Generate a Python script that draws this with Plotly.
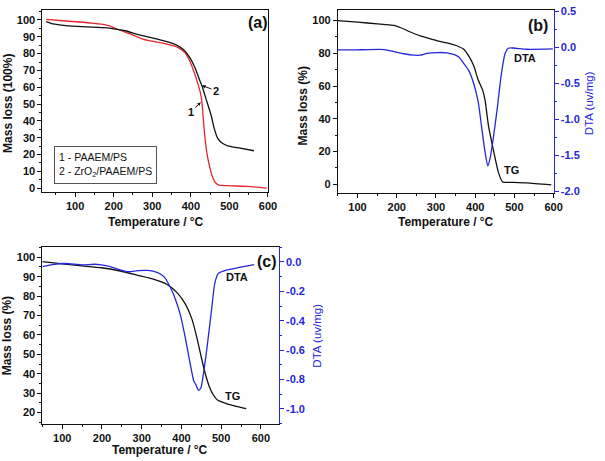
import plotly.graph_objects as go

W, H = 605, 461

# ---------------- data ----------------
# (a) TG curves
a_T1 = [25, 76, 144, 187, 213, 247, 273, 299, 333, 367, 384, 397, 410, 418, 425, 429, 432, 436, 444, 457, 466, 474, 504, 547, 597]
a_M1 = [100.4, 99.4, 98.1, 96.7, 94.2, 91.3, 88.8, 87.4, 85.9, 83.6, 80.7, 75.8, 68, 62.3, 56.5, 50.7, 42, 31.3, 17.8, 6.2, 2.7, 1.7, 1.35, 1.0, 0.0]
a_T2 = [25, 42, 76, 144, 187, 230, 264, 299, 333, 359, 380, 397, 410, 423, 431, 440, 453, 461, 470, 483, 496, 521, 564]
a_M2 = [99, 97.7, 96.7, 95.7, 95.2, 93.6, 91.3, 89.4, 87.4, 85.5, 82.6, 77.8, 72, 64.2, 59.4, 52.6, 43, 35.2, 29.4, 26.5, 25.1, 24.0, 22.2]
legend_lines = ["1 - PAAEM/PS", "2 - ZrO<sub>2</sub>/PAAEM/PS"]

# (b) TG and DTA
b_T_tg = [49, 100, 151, 193, 210, 235, 260, 277, 303, 328, 353, 370, 383, 396, 408, 419, 425, 434, 446, 459, 470, 488, 531, 594]
b_tg = [100, 99, 98, 97, 95.6, 93, 90.6, 89.4, 87.6, 86.4, 84.6, 82.6, 78.6, 72.5, 63.5, 57.5, 51.5, 35.5, 21.4, 7.4, 1.4, 1.2, 0.8, -0.4]
b_T_dta = [49, 92, 168, 193, 218, 244, 260, 277, 303, 328, 345, 358, 370, 383, 396, 408, 417, 425, 432, 438, 446, 456, 467, 476, 484, 497, 531, 598]
b_dta = [-0.036, -0.036, -0.032, -0.06, -0.09, -0.11, -0.11, -0.086, -0.073, -0.077, -0.1, -0.136, -0.218, -0.318, -0.5, -0.77, -1.136, -1.45, -1.65, -1.545, -1.27, -0.86, -0.364, -0.09, -0.014, -0.01, -0.027, -0.023]

# (c) TG and DTA
c_T_tg = [50, 100, 150, 199, 249, 290, 331, 364, 389, 410, 426, 439, 450, 460, 470, 480, 490, 513, 538, 563]
c_tg = [97.8, 96.6, 95.6, 94.6, 92.8, 90.7, 88.6, 86, 81.8, 75.9, 68.4, 58.5, 48.5, 40, 33.5, 29.2, 26.6, 24.6, 23.2, 22]
c_T_dta = [50, 75, 108, 150, 183, 216, 240, 265, 290, 315, 340, 356, 373, 385, 398, 410, 421, 431, 436, 443, 449, 455, 464, 476, 484, 493, 513, 546, 583]
c_dta = [-0.033, -0.018, -0.011, -0.02, -0.016, -0.029, -0.049, -0.067, -0.06, -0.058, -0.073, -0.1, -0.178, -0.256, -0.367, -0.52, -0.678, -0.81, -0.833, -0.873, -0.856, -0.767, -0.59, -0.322, -0.144, -0.078, -0.056, -0.038, -0.018]

# tick labels
x_ticks = [100, 200, 300, 400, 500, 600]
a_yticks = [0, 10, 20, 30, 40, 50, 60, 70, 80, 90, 100]
b_yticks = [0, 20, 40, 60, 80, 100]
b_dta_ticks = [-2.0, -1.5, -1.0, -0.5, 0.0, 0.5]
c_yticks = [20, 30, 40, 50, 60, 70, 80, 90, 100]
c_dta_ticks = [-1.0, -0.8, -0.6, -0.4, -0.2, 0.0]

# ---------------- styling ----------------
FONT = "Liberation Sans, Arial, sans-serif"
BLACK = "#111111"
RED = "#e3262d"
BLUE = "#2626d9"

def fmt(v):
    return f"{v:.1f}"

def px_dom_x(a, b):
    return [a / W, b / W]

def px_dom_y(top, bot):
    return [1 - bot / H, 1 - top / H]

fig = go.Figure()

line_kw = dict(mode="lines", line_shape="spline", showlegend=False, hoverinfo="skip")
fig.add_trace(go.Scatter(x=a_T1, y=a_M1, line=dict(color=RED, width=1.3, smoothing=0.6), xaxis="x", yaxis="y", **line_kw))
fig.add_trace(go.Scatter(x=a_T2, y=a_M2, line=dict(color=BLACK, width=1.3, smoothing=0.6), xaxis="x", yaxis="y", **line_kw))
fig.add_trace(go.Scatter(x=b_T_tg, y=b_tg, line=dict(color=BLACK, width=1.3, smoothing=0.6), xaxis="x2", yaxis="y2", **line_kw))
fig.add_trace(go.Scatter(x=b_T_dta, y=b_dta, line=dict(color=BLUE, width=1.3, smoothing=0.6), xaxis="x2", yaxis="y3", **line_kw))
fig.add_trace(go.Scatter(x=c_T_tg, y=c_tg, line=dict(color=BLACK, width=1.3, smoothing=0.6), xaxis="x3", yaxis="y4", **line_kw))
fig.add_trace(go.Scatter(x=c_T_dta, y=c_dta, line=dict(color=BLUE, width=1.3, smoothing=0.6), xaxis="x3", yaxis="y5", **line_kw))

tickfont = dict(family=FONT, size=11, color=BLACK)

def xax(dom, rng, anchor):
    return dict(domain=dom, range=rng, anchor=anchor, showgrid=False, zeroline=False,
                showline=True, linecolor=BLACK, linewidth=1, mirror=True,
                ticks="outside", ticklen=4, tickwidth=1, tickcolor=BLACK,
                tickvals=x_ticks, ticktext=[f"<b>{v}</b>" for v in x_ticks], tickfont=tickfont,
                ticklabeloverflow="allow",
                minor=dict(ticks="outside", ticklen=2, tickcolor=BLACK, dtick=50, tick0=0, showgrid=False))

def yax(dom, rng, anchor, vals, minor, mirror):
    return dict(domain=dom, range=rng, anchor=anchor, showgrid=False, zeroline=False,
                showline=True, linecolor=BLACK, linewidth=1, mirror=mirror,
                ticks="outside", ticklen=4, tickwidth=1, tickcolor=BLACK,
                tickvals=vals, ticktext=[f"<b>{v}</b>" for v in vals], tickfont=tickfont,
                ticklabeloverflow="allow",
                minor=dict(ticks="outside", ticklen=2, tickcolor=BLACK, dtick=minor, tick0=0, showgrid=False))

def yright(dom, rng, overlay, anchor, vals, minor):
    return dict(domain=dom, range=rng, overlaying=overlay, anchor=anchor, side="right",
                showgrid=False, zeroline=False, showline=True, linecolor=BLUE, linewidth=1,
                ticks="outside", ticklen=4, tickwidth=1, tickcolor=BLUE,
                tickvals=vals, ticktext=[f"<b>{fmt(v)}</b>" for v in vals],
                tickfont=dict(family=FONT, size=11, color=BLUE), ticklabeloverflow="allow",
                minor=dict(ticks="outside", ticklen=2, tickcolor=BLUE, dtick=minor, tick0=0, showgrid=False))

dA_x, dA_y = px_dom_x(43, 272), px_dom_y(5, 191)
dB_x, dB_y = px_dom_x(343, 562), px_dom_y(5, 192)
dC_x, dC_y = px_dom_x(43, 283), px_dom_y(247, 427)

fig.update_layout(
    width=W, height=H, margin=dict(l=0, r=0, t=0, b=0),
    paper_bgcolor="white", plot_bgcolor="white",
    font=dict(family=FONT, color=BLACK),
    xaxis=xax(dA_x, [15, 600], "y"),
    yaxis=yax(dA_y, [-2.5, 106], "x", a_yticks, 5, True),
    xaxis2=xax(dB_x, [50, 600], "y2"),
    yaxis2=yax(dB_y, [-5.5, 106.5], "x2", b_yticks, 10, False),
    yaxis3=yright(dB_y, [-2.03, 0.52], "y2", "x2", b_dta_ticks, 0.25),
    xaxis3=xax(dC_x, [50, 645], "y4"),
    yaxis4=yax(dC_y, [14.3, 105.2], "x3", c_yticks, 5, False),
    yaxis5=yright(dC_y, [-1.1, 0.1], "y4", "x3", c_dta_ticks, 0.1),
)

ann = []
def ptext(xp, yp, text, size=12, color=BLACK, angle=0, bold=True):
    ann.append(dict(xref="paper", yref="paper", x=xp / W, y=1 - yp / H, text=(f"<b>{text}</b>" if bold else text),
                    showarrow=False, textangle=angle, xanchor="center", yanchor="middle",
                    font=dict(family=FONT, size=size, color=color)))

# axis titles
ptext(8, 100, "Mass loss (100%)", angle=-90)
ptext(158, 221, "Temperature / °C")
ptext(308, 103, "Mass loss (%)", angle=-90)
ptext(453, 221, "Temperature / °C")
ptext(598, 100, "DTA (uv/mg)", size=11.5, color=BLUE, angle=-90, bold=False)
ptext(8, 337, "Mass loss (%)", angle=-90)
ptext(162, 454, "Temperature / °C")
ptext(322, 337, "DTA (uv/mg)", size=11.5, color=BLUE, angle=-90, bold=False)

def dtext(xr, yr, x, y, text, size=11):
    ann.append(dict(xref=xr, yref=yr, x=x, y=y, text=f"<b>{text}</b>", showarrow=False,
                    xanchor="center", yanchor="middle", font=dict(family=FONT, size=size, color=BLACK)))

dtext("x", "y", 575, 98.5, "(a)", size=16)
dtext("x2", "y2", 560, 97, "(b)", size=16)
dtext("x3", "y4", 615, 98, "(c)", size=16)
dtext("x2", "y2", 527, 77, "DTA")
dtext("x2", "y2", 493, 8.4, "TG")
dtext("x3", "y4", 540, 89.7, "DTA")
dtext("x3", "y4", 528, 28.3, "TG")

# labelled arrows in (a): text sits at (ax, ay), arrow points at (x, y)
for tip, tail, lab in [((429, 61), (465, 58), "2"), ((426, 51), (400, 45.5), "1")]:
    ann.append(dict(xref="x", yref="y", axref="x", ayref="y", x=tip[0], y=tip[1], ax=tail[0], ay=tail[1],
                    showarrow=True, arrowhead=2, arrowsize=0.7, arrowwidth=1, arrowcolor=BLACK,
                    text=f"<b>{lab}</b>", font=dict(family=FONT, size=11, color=BLACK)))

# legend box in (a)
ann.append(dict(xref="paper", yref="paper", x=55 / W, y=1 - 144 / H, xanchor="left", yanchor="top",
                text="<br>".join(legend_lines), showarrow=False, align="left",
                bordercolor="#555555", borderwidth=1, borderpad=4, bgcolor="white",
                font=dict(family=FONT, size=10.5, color=BLACK)))

fig.update_layout(annotations=ann)
fig.write_html("out.html", config={"displayModeBar": False},
               post_script="document.body.style.margin='0';document.body.style.overflow='hidden';")
